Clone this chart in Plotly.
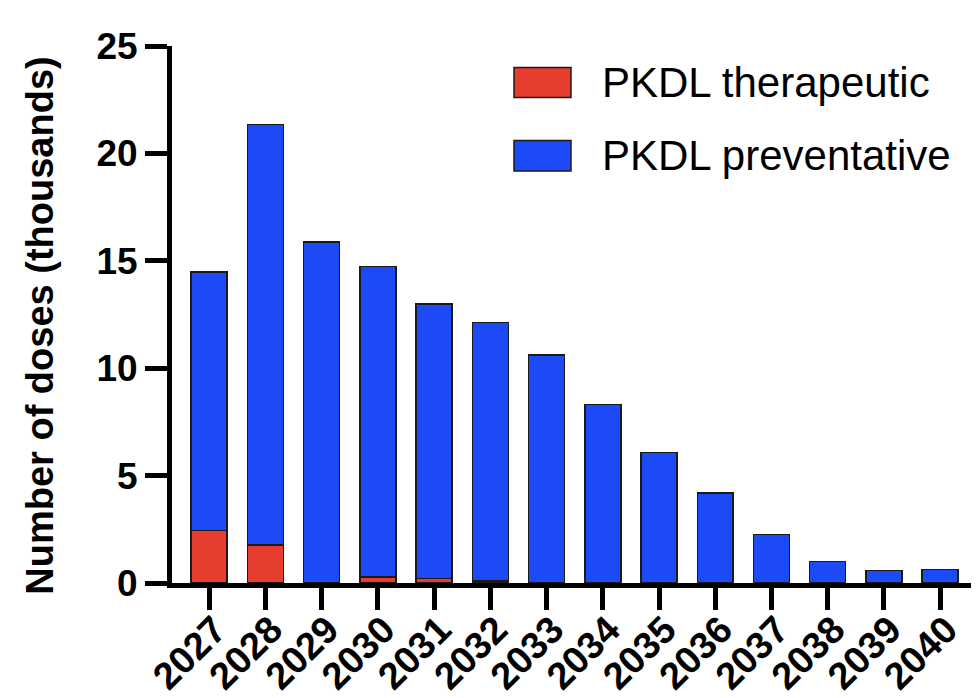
import plotly.graph_objects as go

years = ["2027", "2028", "2029", "2030", "2031", "2032", "2033",
         "2034", "2035", "2036", "2037", "2038", "2039", "2040"]
therapeutic = [2.45, 1.76, 0.0, 0.28, 0.22, 0.10, 0.0,
               0.0, 0.0, 0.0, 0.0, 0.0, 0.0, 0.0]
preventative = [12.04, 19.58, 15.87, 14.46, 12.77, 12.02, 10.62,
                8.31, 6.08, 4.19, 2.25, 1.01, 0.58, 0.64]
series_names = ["PKDL therapeutic", "PKDL preventative"]
y_ticks = [0, 5, 10, 15, 20, 25]

RED = "#E63D2F"
BLUE = "#1C4AF7"
EDGE = "#1a1a1a"
FONT = "Liberation Sans"

fig = go.Figure()
fig.add_trace(go.Bar(x=years, y=therapeutic, name=series_names[0],
                     marker=dict(color=RED, line=dict(color=EDGE, width=1.5)),
                     showlegend=False))
fig.add_trace(go.Bar(x=years, y=preventative, name=series_names[1],
                     marker=dict(color=BLUE, line=dict(color=EDGE, width=1.5)),
                     showlegend=False))

# the page body adds an offset, so margins are shifted to compensate
fig.update_layout(
    barmode="stack",
    bargap=0.36,
    width=979, height=698,
    margin=dict(l=164, r=8, t=37.5, b=122.5, autoexpand=False),
    plot_bgcolor="white", paper_bgcolor="white",
    font=dict(family=FONT, color="black"),
)
fig.update_xaxes(
    type="category", automargin=False,
    range=[-0.66, 13.69],
    showline=True, linecolor="black", linewidth=5,
    ticks="outside", ticklen=22, tickwidth=5, tickcolor="black",
    tickangle=-45,
    ticklabelstandoff=-18, ticklabelshift=6,
    tickfont=dict(family=FONT, size=38, weight="bold", color="black"),
    showgrid=False, zeroline=False,
)
fig.update_yaxes(
    automargin=False,
    range=[0, 25],
    tickvals=y_ticks,
    showline=True, linecolor="black", linewidth=5,
    ticks="outside", ticklen=22, tickwidth=5, tickcolor="black",
    tickfont=dict(family=FONT, size=37, weight="bold", color="black"),
    showgrid=False, zeroline=False,
)

# y-axis title
fig.add_annotation(
    text="Number of doses (thousands)", textangle=-90,
    xref="paper", yref="paper", x=-0.163, y=0.48,
    xanchor="center", yanchor="middle", showarrow=False,
    font=dict(family=FONT, size=38, weight="bold", color="black"),
)

# legend drawn manually (large swatches)
legend_colors = [RED, BLUE]
legend_tops = [0.960, 0.824]
legend_bottoms = [0.904, 0.767]
for name, col, top, bot in zip(series_names, legend_colors, legend_tops, legend_bottoms):
    fig.add_shape(type="rect", xref="paper", yref="paper",
                  x0=0.4238, x1=0.4944, y0=bot, y1=top,
                  fillcolor=col, line=dict(color=EDGE, width=1.5))
    fig.add_annotation(text=name, xref="paper", yref="paper",
                       x=0.530, y=(top + bot) / 2,
                       xanchor="left", yanchor="middle", showarrow=False,
                       font=dict(family=FONT, size=42, color="black"))

fig.write_html("out.html")
